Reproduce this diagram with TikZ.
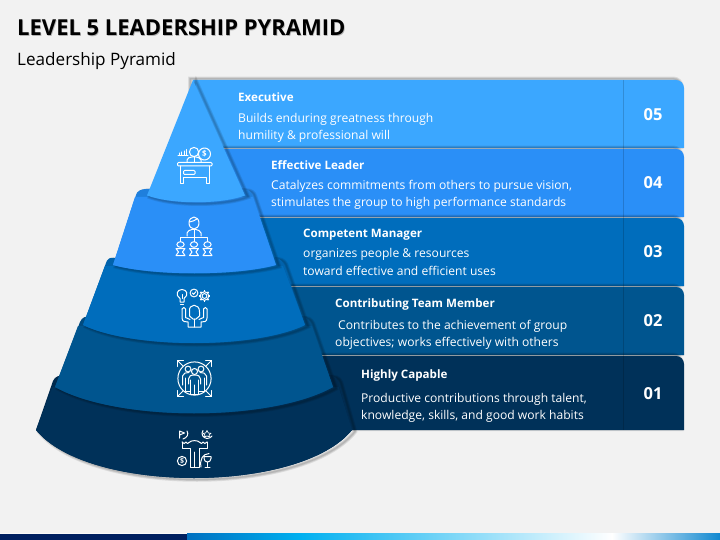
\documentclass[tikz,border=0pt]{standalone}
\usepackage{fontspec}
\setmainfont{Open Sans}
\usetikzlibrary{calc}
\definecolor{bgc}{HTML}{F2F2F2}
\definecolor{ca}{HTML}{3BA7FF}
\definecolor{cb}{HTML}{2A8FF7}
\definecolor{cc}{HTML}{006DBC}
\definecolor{cd}{HTML}{00558F}
\definecolor{ce}{HTML}{003159}
\definecolor{bb}{HTML}{1F7FDC}
\definecolor{bc}{HTML}{0062AC}
\definecolor{bd}{HTML}{004B80}
\definecolor{be}{HTML}{002A4E}
\definecolor{navy}{HTML}{002060}
\definecolor{fa}{HTML}{0070C0}
\definecolor{fb}{HTML}{00B0F0}
\definecolor{fc}{HTML}{1088D0}
\tikzset{
  x=1pt,y=-1pt,
  headtxt/.style={anchor=base west,inner sep=0pt,text=white,font=\fontsize{11.6}{14}\selectfont\bfseries},
  bodytxt/.style={anchor=base west,inner sep=0pt,text=white,font=\fontsize{12.1}{14}\selectfont},
  numtxt/.style={anchor=center,inner sep=0pt,text=white,font=\fontsize{16.5}{18}\selectfont\bfseries},
  ico/.style={draw=white,line width=1pt,line join=round,line cap=round,fill=none},
  divline/.style={draw=black,draw opacity=.16,line width=1.4pt},
}
\newcommand{\rowpath}[3]{(#1,#2) -- (676,#2) .. controls (680.5,#2) and (684,{#2+3.5}) .. (684,{#2+8}) -- (684,#3) -- (#1,#3) -- cycle}
\newcommand{\softhalo}[3]{\foreach \w in {4.5,2.8,1.4}{\draw[black,opacity=.09,line width=\w pt,xshift=#1,yshift=#2] #3;}}
\begin{document}
\begin{tikzpicture}
\useasboundingbox (0,0) rectangle (720,540);
\fill[bgc] (0,0) rectangle (720,540);
% footer band
\fill[white!60!bgc] (0,532.6) rectangle (720,533.6);
\fill[navy] (0,533.6) rectangle (187,540);
\shade[left color=fa,right color=fb] (187,533.6) rectangle (300,540);
\shade[left color=fb,right color=white] (299.8,533.6) rectangle (612,540);
\shade[left color=white,right color=fc] (611.8,533.6) rectangle (720,540);
% title
\node[anchor=base west,inner sep=0pt,text=black!30,font=\fontsize{22}{26}\selectfont\bfseries] (titleshadow) at (17.7,36.7) {LEVEL 5 LEADERSHIP PYRAMID};
\node[anchor=base west,inner sep=0pt,text=black,font=\fontsize{22}{26}\selectfont\bfseries] (title) at (17,36) {LEVEL 5 LEADERSHIP PYRAMID};
\node[anchor=base west,inner sep=0pt,text=black,font=\fontsize{17.1}{20}\selectfont] (subtitle) at (17,66) {Leadership Pyramid};
% rows
\softhalo{-2.6pt}{1.2pt}{\rowpath{193}{80}{148}}
\fill[ca] \rowpath{193}{80}{148};
\softhalo{-2.6pt}{1.2pt}{\rowpath{215}{149}{217}}
\fill[cb] \rowpath{215}{149}{217};
\softhalo{-2.6pt}{1.2pt}{\rowpath{240}{218}{286}}
\fill[cc] \rowpath{240}{218}{286};
\softhalo{-2.6pt}{1.2pt}{\rowpath{270}{287}{355}}
\fill[cd] \rowpath{270}{287}{355};
\softhalo{-2.6pt}{1.2pt}{\rowpath{300}{356}{430}}
\fill[ce] \rowpath{300}{356}{430};
\coordinate (dA) at (623.5,80); \coordinate (dB) at (623.5,430);
\draw[divline] (dA) -- (dB);
% tier 5 (bottom)
\def\tE{(53,381) .. controls (55,376) and (60,375) .. (64,376) -- (326,376) .. controls (332,375) and (336,376) .. (338,381) -- (352,430) .. controls (300,494) and (88,494) .. (36,430) -- cycle}
\softhalo{3pt}{-1.5pt}{\tE}
\fill[be] \tE;
\fill[ce] (52.5,387) -- (338.5,387) -- (352,430) .. controls (300,494) and (88,494) .. (36,430) -- cycle;
% tier 4
\def\tD{(80,322) .. controls (82,317) and (86,316) .. (90,317) -- (300,317) .. controls (305,316) and (308,318) .. (310,322) -- (333,387) .. controls (270,422) and (118,422) .. (55,387) -- cycle}
\softhalo{3pt}{-1.5pt}{\tD}
\fill[bd] \tD;
\fill[cd] (78,326) -- (312,326) -- (333,387) .. controls (270,422) and (118,422) .. (55,387) -- cycle;
% tier 3
\def\tC{(106,263) .. controls (107,259) and (110,257) .. (114,258) -- (272,258) .. controls (277,257) and (281,259) .. (283,263) -- (305,325) .. controls (255,349) and (133,349) .. (83,325) -- cycle}
\softhalo{3pt}{-1.5pt}{\tC}
\fill[bc] \tC;
\fill[cc] (105,266) -- (283,266) -- (305,325) .. controls (255,349) and (133,349) .. (83,325) -- cycle;
% tier 2
\def\tB{(136,195) .. controls (137,191) and (141,189) .. (146,189) -- (243,189) .. controls (248,189) and (251,191) .. (252,195) -- (276,265) .. controls (235,276) and (154,276) .. (113,265) -- cycle}
\softhalo{3pt}{-1.5pt}{\tB}
\fill[bb] \tB;
\fill[cb] (135,197) -- (253,197) -- (276,265) .. controls (235,276) and (154,276) .. (113,265) -- cycle;
% tier 1
\def\tA{(193,80) -- (245,195.5) .. controls (220,204.5) and (172,204.5) .. (147,195.5) -- cycle}
\softhalo{3pt}{-1.5pt}{\tA}
\fill[ca] \tA;
% row texts
\node[headtxt] (h5) at (238,102) {Executive};
\node[bodytxt] (b5a) at (238,123) {Builds enduring greatness through};
\node[bodytxt] (b5b) at (238,140) {humility \& professional will};
\node[headtxt] (h4) at (271,170) {Effective Leader};
\node[bodytxt] (b4a) at (271,190) {Catalyzes commitments from others to pursue vision,};
\node[bodytxt] (b4b) at (271,207) {stimulates the group to high performance standards};
\node[headtxt] (h3) at (303,237) {Competent Manager};
\node[bodytxt] (b3a) at (303,258) {organizes people \& resources};
\node[bodytxt] (b3b) at (303,275) {toward effective and efficient uses};
\node[headtxt] (h2) at (335,307) {Contributing Team Member};
\node[bodytxt] (b2a) at (338,329) {Contributes to the achievement of group};
\node[bodytxt] (b2b) at (335,346) {objectives; works effectively with others};
\node[headtxt] (h1) at (361,378) {Highly Capable};
\node[bodytxt] (b1a) at (361,402) {Productive contributions through talent,};
\node[bodytxt] (b1b) at (361,419) {knowledge, skills, and good work habits};
\node[numtxt] (n5) at (653,115) {05};
\node[numtxt] (n4) at (653,183) {04};
\node[numtxt] (n3) at (653,252) {03};
\node[numtxt] (n2) at (653,321) {02};
\node[numtxt] (n1) at (653,394) {01};
% icon 1: manager at desk
\draw[ico] (178,155.5) -- (188,155.5);
\draw[ico] (179,155) -- (179,153) (181.5,155) -- (181.5,152) (184,155) -- (184,151) (186.5,155) -- (186.5,149.5);
\draw[ico] (194,152) circle (4.6);
\draw[ico] (204.5,154) circle (6);
\node[inner sep=0pt,text=white,font=\fontsize{8}{8}\selectfont\bfseries] (dollar) at (204.5,154) {\$};
\draw[ico] (187,162) -- (187,160) .. controls (187,158) and (190,157) .. (192,157) -- (196,157) .. controls (198,157) and (200,158) .. (201,160) -- (201,162);
\draw[ico] (194,157) -- (194,162);
\draw[ico,rounded corners=1pt] (177.5,162.5) rectangle (212,166);
\draw[ico] (180,166) -- (180,183.5) -- (183,183.5) -- (183,178) -- (206,178) -- (206,183.5) -- (209,183.5) -- (209,166);
\draw[ico,rounded corners=1pt] (183.5,170.5) rectangle (195,174.5);
% icon 2: manager with team
\draw[ico] (194,223) ellipse (5 and 6);
\draw[ico] (189.5,222) .. controls (192,222) and (195,220) .. (197,219);
\draw[ico] (187,236) -- (187,233) .. controls (187,231) and (190,230) .. (192,229.5) -- (196,229.5) .. controls (198,230) and (201,231) .. (201,233) -- (201,236);
\draw[ico] (180.5,241.5) -- (180.5,237) -- (207.5,237) -- (207.5,241.5) (194,229.5) -- (194,241.5);
\foreach \ix/\nm in {180.5/a,194/b,207.5/c}{
  \draw[ico] (\ix,244.5) ellipse (3.6 and 2.8);
  \draw[ico] (\ix-4.5,248.5) -- (\ix+4.5,248.5) -- (\ix+2,252) -- (\ix+4.5,255.5) -- (\ix-4.5,255.5) -- (\ix-2,252) -- cycle;
}
% icon 3: team member with ideas
\draw[ico] (180,302) -- (180,298.5) .. controls (175,295) and (177,289.5) .. (182,289.5) .. controls (187,289.5) and (189,295) .. (184,298.5) -- (184,302) -- cycle;
\draw[ico] (180.5,304.5) -- (183.5,304.5) (182,298.5) -- (182,294.5);
\draw[ico] (194,293) circle (3.9);
\draw[ico] (192.3,293) -- (193.6,294.3) -- (195.8,291.8);
\draw[ico] (204.5,296) circle (2.4);
\foreach \a in {0,45,...,315}{\draw[ico,line width=1.5pt,line cap=butt] ($(204.5,296)+(\a:4.2)$) -- ($(204.5,296)+(\a:5.8)$);}
\draw[ico] (204.5,296) circle (4.3);
\draw[ico] (189.5,312) .. controls (188,303) and (200,303) .. (199.5,312) -- (199.5,316) -- (196,319) -- (193,319) -- (189.5,316) -- cycle;
\draw[ico] (182,309) -- (182,318) .. controls (182,322) and (186,322) .. (188,322) -- (188,327) -- (201,327) -- (201,322) .. controls (204,322) and (207,322) .. (207,318) -- (207,309);
\draw[ico] (185.5,309) -- (185.5,317.5) -- (190,319.5) (203.5,309) -- (203.5,317.5) -- (199,319.5);
\draw[ico] (182,309) .. controls (183,307) and (185,307) .. (185.5,309) (203.5,309) .. controls (204.5,307) and (206.5,307) .. (207,309);
\draw[ico] (194.5,319) -- (194.5,327);
% icon 4: team in frame
\draw[ico] (194.5,378.5) circle (16.6);
\draw[ico] (177.5,366.5) -- (177.5,360.5) -- (183.5,360.5) (205.5,360.5) -- (211.5,360.5) -- (211.5,366.5) (177.5,390.5) -- (177.5,396.5) -- (183.5,396.5) (205.5,396.5) -- (211.5,396.5) -- (211.5,390.5);
\draw[ico] (177.5,360.5) -- (183,366) (211.5,360.5) -- (206,366) (177.5,396.5) -- (183,391) (211.5,396.5) -- (206,391);
\draw[ico] (188,369) circle (2.9) (201,369) circle (2.9) (194.5,371.5) circle (3);
\draw[ico] (182.5,385) -- (182.5,376) .. controls (183,373) and (186,372.5) .. (189,372.5);
\draw[ico] (206.5,385) -- (206.5,376) .. controls (206,373) and (203,372.5) .. (200,372.5);
\draw[ico] (185,378) -- (185,391) -- (190,391) (204,378) -- (204,391) -- (199,391);
\draw[ico] (188.5,384) -- (188.5,379) .. controls (188.5,376) and (191,375) .. (194.5,375) .. controls (198,375) and (200.5,376) .. (200.5,379) -- (200.5,384);
\draw[ico] (190.5,380) -- (190.5,394) -- (198.5,394) -- (198.5,380) (194.5,385) -- (194.5,394);
% icon 5: capable person with achievements
\draw[ico] (179.5,438) -- (179.5,431) -- (184.5,433) -- (179.5,435);
\draw[ico] (187,431) .. controls (189,434) and (187,438) .. (183,439);
\draw[ico] (203,430.5) .. controls (200.5,434) and (203,438) .. (207,438.5) .. controls (209,438.5) and (211,437.5) .. (212,436);
\draw[ico,line width=.7pt] (207,430.5) -- (208.3,433) -- (211,433.3) -- (209,435) -- (209.6,437) -- (207,436) -- (204.4,437) -- (205,435) -- (203,433.3) -- (205.7,433) -- cycle;
\draw[ico] (182,442) -- (182,448) -- (190,448) -- (190,467) -- (199,467) -- (199,448) -- (207,448) -- (207,442);
\draw[ico] (182,442) .. controls (183.5,444) and (185,444) .. (186,442) .. controls (187,444) and (188,444) .. (189,442.5) .. controls (191,440) and (198,440) .. (200,442.5) .. controls (201,444) and (202,444) .. (203,442) .. controls (204,444) and (205.5,444) .. (207,442);
\draw[ico] (194.5,452) -- (194.5,467);
\draw[ico] (182,461) circle (4.6);
\node[inner sep=0pt,text=white,font=\fontsize{7}{7}\selectfont\bfseries] (coin) at (182,461) {\$};
\draw[ico] (201,467) .. controls (199.5,459) and (203,454) .. (209,453.5);
\draw[ico] (204,456.5) -- (211,456.5) -- (211,458.5) .. controls (211,461) and (209,462) .. (207.5,462) .. controls (206,462) and (204,461) .. (204,458.5) -- cycle;
\draw[ico] (207.5,462) -- (207.5,466.5) (205,467) -- (210,467);
\end{tikzpicture}
\end{document}
